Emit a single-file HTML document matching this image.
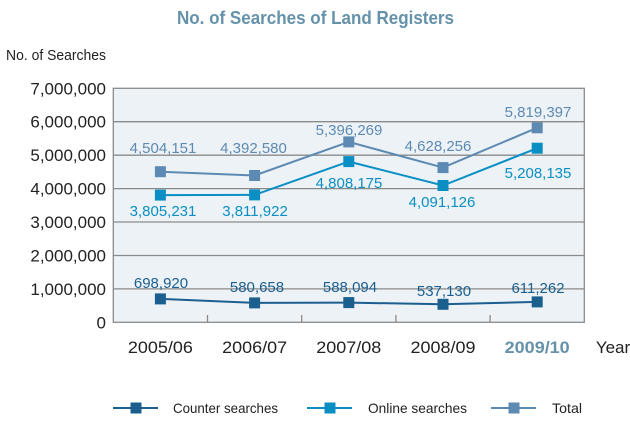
<!DOCTYPE html>
<html><head><meta charset="utf-8"><style>
html,body{margin:0;padding:0;background:#fff;}
svg{display:block;}
text{font-family:"Liberation Sans",sans-serif;}
</style></head><body>
<svg width="630" height="427" viewBox="0 0 630 427" xmlns="http://www.w3.org/2000/svg">
<text x="315.5" y="24" text-anchor="middle" font-size="18" font-weight="bold" fill="#6592aa" textLength="277" lengthAdjust="spacingAndGlyphs">No. of Searches of Land Registers</text>
<text x="6" y="60" font-size="15" fill="#222" textLength="100" lengthAdjust="spacingAndGlyphs">No. of Searches</text>
<rect x="113.3" y="88.3" width="471" height="234" fill="#edf2f7"/>
<g stroke="#8a8a8a" stroke-width="1.3">
<line x1="113.3" y1="121.7" x2="584.3" y2="121.7"/>
<line x1="113.3" y1="155.2" x2="584.3" y2="155.2"/>
<line x1="113.3" y1="188.6" x2="584.3" y2="188.6"/>
<line x1="113.3" y1="222" x2="584.3" y2="222"/>
<line x1="113.3" y1="255.5" x2="584.3" y2="255.5"/>
<line x1="113.3" y1="288.9" x2="584.3" y2="288.9"/>
<rect x="113.3" y="88.3" width="471" height="234" fill="none"/>
<line x1="207.5" y1="315" x2="207.5" y2="322.3"/>
<line x1="301.7" y1="315" x2="301.7" y2="322.3"/>
<line x1="395.9" y1="315" x2="395.9" y2="322.3"/>
<line x1="490.1" y1="315" x2="490.1" y2="322.3"/>
</g>
<g font-size="17" fill="#222" text-anchor="end">
<text x="106" y="94.3">7,000,000</text>
<text x="106" y="127.7">6,000,000</text>
<text x="106" y="161.2">5,000,000</text>
<text x="106" y="194.6">4,000,000</text>
<text x="106" y="228">3,000,000</text>
<text x="106" y="261.5">2,000,000</text>
<text x="106" y="294.9">1,000,000</text>
<text x="106" y="328.3">0</text>
</g>
<g font-size="17" fill="#222" text-anchor="middle">
<text x="160.4" y="353" textLength="65" lengthAdjust="spacingAndGlyphs">2005/06</text>
<text x="254.6" y="353" textLength="65" lengthAdjust="spacingAndGlyphs">2006/07</text>
<text x="348.8" y="353" textLength="65" lengthAdjust="spacingAndGlyphs">2007/08</text>
<text x="443" y="353" textLength="65" lengthAdjust="spacingAndGlyphs">2008/09</text>
<text x="537.2" y="353" textLength="65" lengthAdjust="spacingAndGlyphs" font-weight="bold" fill="#6592aa">2009/10</text>
<text x="613" y="353">Year</text>
</g>
<!-- Total -->
<polyline points="160.4,171.7 254.6,175.5 348.8,141.9 443,167.6 537.2,127.8" fill="none" stroke="#5d8ab2" stroke-width="2"/>
<g fill="#5d8ab2">
<rect x="154.9" y="166.2" width="11" height="11"/>
<rect x="249.1" y="170" width="11" height="11"/>
<rect x="343.3" y="136.4" width="11" height="11"/>
<rect x="437.5" y="162.1" width="11" height="11"/>
<rect x="531.7" y="122.3" width="11" height="11"/>
</g>
<!-- Online -->
<polyline points="160.4,195.1 254.6,194.9 348.8,161.6 443,185.5 537.2,148.2" fill="none" stroke="#0a8fc4" stroke-width="2"/>
<g fill="#0a8fc4">
<rect x="154.9" y="189.6" width="11" height="11"/>
<rect x="249.1" y="189.4" width="11" height="11"/>
<rect x="343.3" y="156.1" width="11" height="11"/>
<rect x="437.5" y="180" width="11" height="11"/>
<rect x="531.7" y="142.7" width="11" height="11"/>
</g>
<!-- Counter -->
<polyline points="160.4,298.9 254.6,302.9 348.8,302.6 443,304.3 537.2,301.9" fill="none" stroke="#1b5f8f" stroke-width="2"/>
<g fill="#1b5f8f">
<rect x="154.9" y="293.4" width="11" height="11"/>
<rect x="249.1" y="297.4" width="11" height="11"/>
<rect x="343.3" y="297.1" width="11" height="11"/>
<rect x="437.5" y="298.8" width="11" height="11"/>
<rect x="531.7" y="296.4" width="11" height="11"/>
</g>
<g font-size="15" text-anchor="middle">
<g fill="#5d8ab2">
<text x="163" y="153">4,504,151</text>
<text x="253.5" y="153">4,392,580</text>
<text x="349" y="135">5,396,269</text>
<text x="438" y="151">4,628,256</text>
<text x="538" y="117">5,819,397</text>
</g>
<g fill="#0a8fc4">
<text x="163" y="216">3,805,231</text>
<text x="255" y="216">3,811,922</text>
<text x="349" y="188">4,808,175</text>
<text x="442" y="207">4,091,126</text>
<text x="538" y="178">5,208,135</text>
</g>
<g fill="#1b5f8f">
<text x="161" y="288">698,920</text>
<text x="257" y="292">580,658</text>
<text x="350" y="292">588,094</text>
<text x="444" y="296">537,130</text>
<text x="538" y="293">611,262</text>
</g>
</g>
<!-- Legend -->
<g stroke-width="2">
<line x1="113" y1="408" x2="158" y2="408" stroke="#1b5f8f"/>
<line x1="307" y1="408" x2="352" y2="408" stroke="#0a8fc4"/>
<line x1="491" y1="408" x2="536" y2="408" stroke="#5d8ab2"/>
</g>
<rect x="130.5" y="402.5" width="11" height="11" fill="#1b5f8f"/>
<rect x="324.5" y="402.5" width="11" height="11" fill="#0a8fc4"/>
<rect x="508.5" y="402.5" width="11" height="11" fill="#5d8ab2"/>
<g font-size="14" fill="#222">
<text x="173" y="413" textLength="105" lengthAdjust="spacingAndGlyphs">Counter searches</text>
<text x="368" y="413" textLength="99" lengthAdjust="spacingAndGlyphs">Online searches</text>
<text x="552" y="413" textLength="30" lengthAdjust="spacingAndGlyphs">Total</text>
</g>
</svg>
</body></html>
